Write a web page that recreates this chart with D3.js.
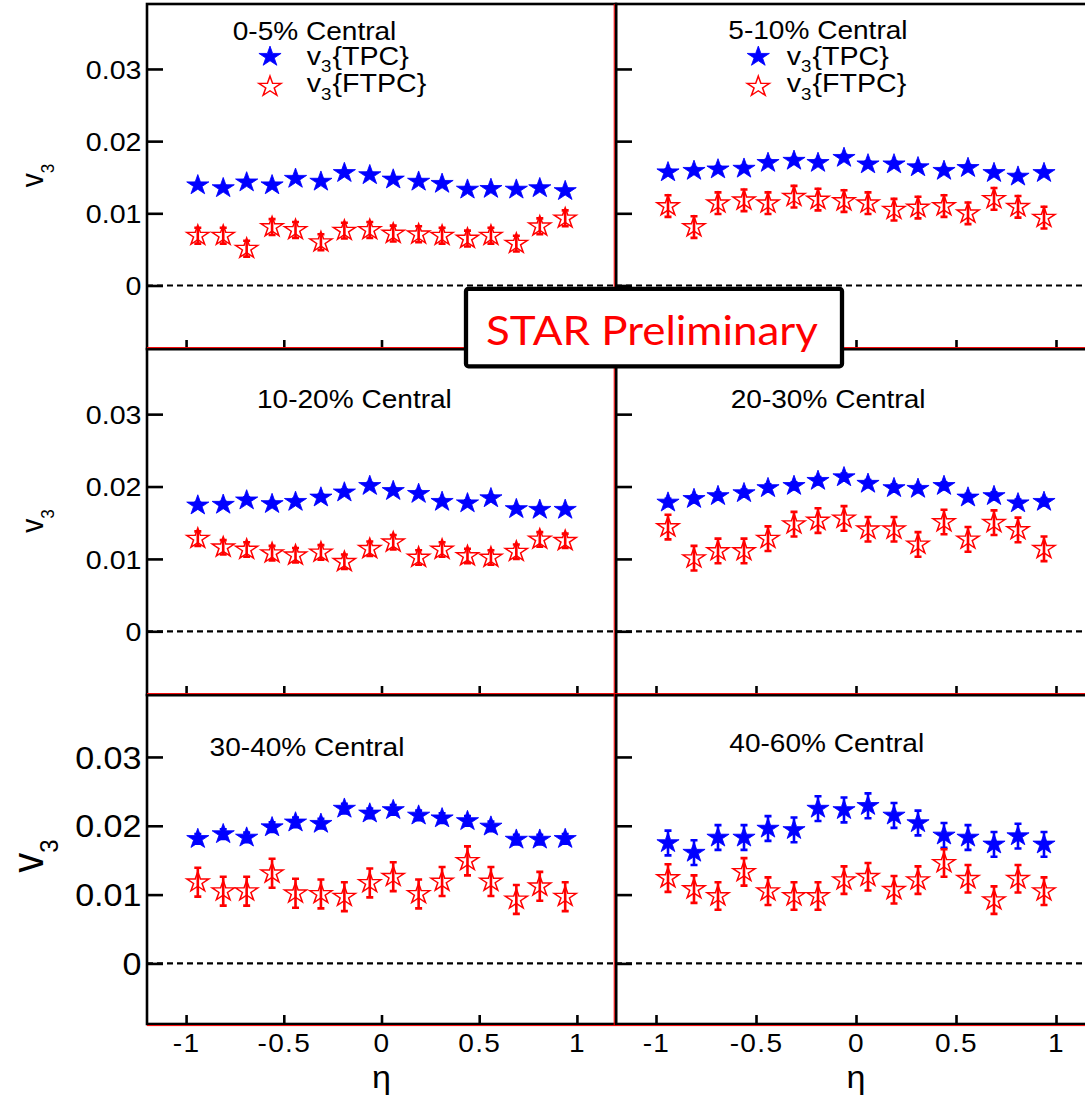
<!DOCTYPE html>
<html>
<head>
<meta charset="utf-8">
<script src="https://cdn.jsdelivr.net/npm/d3@7"></script>
<style>
  body { margin: 0; background: #fff; }
  svg { display: block; font-family: "Liberation Sans", Arial, sans-serif; }
</style>
</head>
<body>
<div id="chart"></div>
<script>
// ---------------- data ----------------
const eta = [-0.94, -0.81, -0.69, -0.56, -0.44, -0.31, -0.19, -0.06,
              0.06,  0.19,  0.31,  0.44,  0.56,  0.69,  0.81,  0.94];

const titles = ["0-5% Central", "5-10% Central", "10-20% Central",
                "20-30% Central", "30-40% Central", "40-60% Central"];

const tpc0 = [0.0139, 0.0135, 0.0143, 0.0139, 0.0148, 0.0144, 0.0156, 0.0153, 0.0147, 0.0144, 0.0141, 0.0133, 0.0134, 0.0133, 0.0135, 0.0131];
const ftpc0 = [0.0069, 0.0069, 0.0051, 0.0081, 0.0077, 0.0060, 0.0076, 0.0077, 0.0072, 0.0071, 0.0069, 0.0065, 0.0069, 0.0058, 0.0082, 0.0093];
const tpc1 = [0.0157, 0.0159, 0.0161, 0.0162, 0.0170, 0.0173, 0.0170, 0.0177, 0.0168, 0.0168, 0.0164, 0.0159, 0.0163, 0.0156, 0.0151, 0.0156];
const ftpc1 = [0.0110, 0.0081, 0.0114, 0.0118, 0.0114, 0.0123, 0.0119, 0.0117, 0.0114, 0.0105, 0.0108, 0.0110, 0.0100, 0.0120, 0.0109, 0.0094];
const tpc2 = [0.0174, 0.0175, 0.0181, 0.0176, 0.0179, 0.0185, 0.0192, 0.0201, 0.0194, 0.0190, 0.0179, 0.0177, 0.0184, 0.0169, 0.0168, 0.0168];
const ftpc2 = [0.0128, 0.0116, 0.0113, 0.0108, 0.0105, 0.0109, 0.0096, 0.0114, 0.0123, 0.0102, 0.0113, 0.0104, 0.0102, 0.0110, 0.0127, 0.0125];
const tpc3 = [0.0178, 0.0183, 0.0187, 0.0191, 0.0198, 0.0201, 0.0208, 0.0213, 0.0204, 0.0198, 0.0197, 0.0201, 0.0185, 0.0187, 0.0177, 0.0179];
const ftpc3 = [0.0144, 0.0101, 0.0111, 0.0111, 0.0128, 0.0148, 0.0153, 0.0156, 0.0141, 0.0141, 0.0120, 0.0151, 0.0127, 0.0150, 0.0140, 0.0114];
const tpc4 = [0.0181, 0.0188, 0.0183, 0.0198, 0.0205, 0.0203, 0.0225, 0.0218, 0.0223, 0.0215, 0.0211, 0.0207, 0.0199, 0.0180, 0.0180, 0.0181];
const ftpc4 = [0.0118, 0.0105, 0.0105, 0.0131, 0.0102, 0.0101, 0.0097, 0.0117, 0.0126, 0.0101, 0.0119, 0.0149, 0.0119, 0.0093, 0.0112, 0.0097];
const tpc5 = [0.0175, 0.0161, 0.0183, 0.0183, 0.0196, 0.0194, 0.0225, 0.0223, 0.0229, 0.0215, 0.0204, 0.0186, 0.0183, 0.0173, 0.0185, 0.0173];
const ftpc5 = [0.0124, 0.0108, 0.0098, 0.0133, 0.0105, 0.0098, 0.0098, 0.0121, 0.0126, 0.0107, 0.0121, 0.0146, 0.0123, 0.0092, 0.0123, 0.0105];

// one error size per panel
const tpcErr = [0.0003, 0.0004, 0.0004, 0.0005, 0.0007, 0.0018];
const ftpcErr = [0.0011, 0.0015, 0.0010, 0.0017, 0.0021, 0.0020];

const yTicks = [0, 0.01, 0.02, 0.03];
const xTicks = [-1, -0.5, 0, 0.5, 1];

const tpcAll = [tpc0, tpc1, tpc2, tpc3, tpc4, tpc5];
const ftpcAll = [ftpc0, ftpc1, ftpc2, ftpc3, ftpc4, ftpc5];

// ---------------- layout ----------------
const W = 1085, H = 1097;
const SX = 1.1; // the original figure is stretched horizontally
const colX = [[147, 616], [616, 1096]];
const rowY = [[4, 349], [349, 695], [695, 1024]];
const titlePos = [[232.7, 40], [728.3, 39.3], [257, 408], [730.7, 408.3], [209.6, 756], [729.3, 751.7]];
const yLabelPos = [[42.7, 175.5], [42.7, 521], [43.3, 856]];
const blue = "#0000ff", red = "#ff0000";

const svg = d3.select("#chart").append("svg").attr("width", W).attr("height", H);

const xScales = colX.map(r => d3.scaleLinear().domain([-1.2, 1.2]).range(r));
const yScales = rowY.map(r => d3.scaleLinear().domain([-0.0088, 0.039]).range([r[1], r[0]]));

const R = 10.6;
const starPath = d3.symbol().type(d3.symbolStar).size(R * R / 0.8908130915292852)();

const fmt = d => (d === 0 ? "0" : String(d));

function stretch(x, y) {
  return `translate(${x},${y}) scale(${SX},1)`;
}

function errPath(cx, y1, y2) {
  return `M${cx},${y1}V${y2}M${cx - 3.5},${y2}H${cx + 3.5}M${cx - 3.5},${y1}H${cx + 3.5}`;
}

titles.forEach((title, i) => {
  const row = Math.floor(i / 2), col = i % 2;
  const x = xScales[col], y = yScales[row];
  const g = svg.append("g");
  const big = row === 2;

  // zero line
  g.append("line")
    .attr("x1", x.range()[0]).attr("x2", x.range()[1])
    .attr("y1", y(0)).attr("y2", y(0))
    .attr("stroke", "#000").attr("stroke-width", 2.2)
    .attr("stroke-dasharray", "6,4");

  // y axis (ticks inward)
  const ya = g.append("g")
    .attr("transform", `translate(${x.range()[0]},0)`)
    .call(d3.axisLeft(y).tickValues(yTicks).tickSizeInner(-16).tickSizeOuter(0)
      .tickPadding(5).tickFormat(col === 0 ? fmt : ""));
  ya.select(".domain").remove();
  ya.selectAll("line").attr("stroke-width", 2.6);
  ya.selectAll("text")
    .attr("font-size", big ? 31 : 26)
    .attr("font-family", "Liberation Sans, Arial, sans-serif")
    .attr("dy", "0.36em")
    .attr("transform", `scale(${SX},1)`)
    .attr("fill", "#000");

  // x axis (ticks inward)
  const xa = g.append("g")
    .attr("transform", `translate(0,${y.range()[0]})`)
    .call(d3.axisBottom(x).tickValues(xTicks).tickSizeInner(-9).tickSizeOuter(0)
      .tickPadding(9.5).tickFormat(row === 2 ? fmt : ""));
  xa.select(".domain").remove();
  xa.selectAll("line").attr("stroke-width", 2.6);
  xa.selectAll("text")
    .attr("font-size", 25.5)
    .attr("letter-spacing", 1.2)
    .attr("font-family", "Liberation Sans, Arial, sans-serif")
    .attr("transform", `scale(${SX},1)`)
    .attr("fill", "#000");

  // frame
  g.append("rect")
    .attr("x", x.range()[0]).attr("y", y.range()[1])
    .attr("width", x.range()[1] - x.range()[0])
    .attr("height", y.range()[0] - y.range()[1])
    .attr("fill", "none").attr("stroke", "#000").attr("stroke-width", 2.6);

  // TPC: filled blue stars
  const tpc = tpcAll[i], ftpc = ftpcAll[i];
  g.selectAll(".errT").data(tpc).enter().append("path")
    .attr("d", (d, k) => errPath(x(eta[k]), y(d - tpcErr[i]), y(d + tpcErr[i])))
    .attr("stroke", blue).attr("stroke-width", 2.6).attr("fill", "none");
  g.selectAll(".tpc").data(tpc).enter().append("path")
    .attr("d", starPath)
    .attr("transform", (d, k) => stretch(x(eta[k]), y(d)))
    .attr("fill", blue).attr("stroke", blue).attr("stroke-width", 0.8)
    .attr("stroke-linejoin", "round");

  // FTPC: open red stars with error bars on top
  g.selectAll(".ftpc").data(ftpc).enter().append("path")
    .attr("d", starPath)
    .attr("transform", (d, k) => stretch(x(eta[k]), y(d)))
    .attr("fill", "#fff").attr("stroke", red).attr("stroke-width", 1.4);
  g.selectAll(".errF").data(ftpc).enter().append("path")
    .attr("d", (d, k) => errPath(x(eta[k]), y(d - ftpcErr[i]), y(d + ftpcErr[i])))
    .attr("stroke", red).attr("stroke-width", 2.6).attr("fill", "none");

  // title
  g.append("text")
    .attr("transform", stretch(titlePos[i][0], titlePos[i][1]))
    .attr("font-size", 25.5).attr("fill", "#000")
    .text(title);

  // y title on the left column
  if (col === 0) {
    const t = svg.append("text")
      .attr("transform", `${stretch(yLabelPos[row][0], yLabelPos[row][1])} rotate(-90)`)
      .attr("text-anchor", "middle")
      .attr("font-size", big ? 40 : 28).attr("fill", "#000");
    t.append("tspan").text("v");
    t.append("tspan").attr("dy", big ? 13 : 10).attr("font-size", big ? 24 : 17).text("3");
  }

  // x title on the bottom row
  if (row === 2) {
    svg.append("text")
      .attr("transform", stretch(x(0), 1088))
      .attr("text-anchor", "middle")
      .attr("font-size", 31).attr("fill", "#000")
      .text("η");
  }
});

// legends in the top row
const legendPos = [[270, 56.7, 306.7], [758.3, 56.7, 786.7]];
legendPos.forEach(([sx, sy, tx]) => {
  svg.append("path").attr("d", starPath)
    .attr("transform", stretch(sx, sy)).attr("fill", blue)
    .attr("stroke", blue).attr("stroke-width", 0.8).attr("stroke-linejoin", "round");
  svg.append("path").attr("d", starPath)
    .attr("transform", stretch(sx, sy + 30))
    .attr("fill", "#fff").attr("stroke", red).attr("stroke-width", 1.4);
  [["{TPC}", 64.5], ["{FTPC}", 92]].forEach(([lab, by]) => {
    const t = svg.append("text")
      .attr("transform", stretch(tx, by))
      .attr("font-size", 26).attr("fill", "#000");
    t.append("tspan").text("v");
    t.append("tspan").attr("dy", 7.7).attr("font-size", 17).text("3");
    t.append("tspan").attr("dy", -7.7).attr("dx", 1).text(lab);
  });
});

// thin red boundary lines
const reds = svg.append("g").attr("stroke", red).attr("stroke-width", 1);
reds.append("line").attr("x1", 614.2).attr("x2", 614.2).attr("y1", 4).attr("y2", 1025);
[347.6, 693.6, 1025.6].forEach(yy => {
  reds.append("line").attr("x1", 147).attr("x2", W).attr("y1", yy).attr("y2", yy);
});

// STAR Preliminary box
svg.append("rect")
  .attr("x", 466).attr("y", 288.8).attr("width", 376).attr("height", 77.5)
  .attr("rx", 2.5)
  .attr("fill", "#fff").attr("stroke", "#000").attr("stroke-width", 4.3);
svg.append("text")
  .attr("x", 652).attr("y", 345)
  .attr("text-anchor", "middle")
  .attr("font-family", "Lato, 'Open Sans', sans-serif")
  .attr("font-size", 41)
  .attr("textLength", 332).attr("lengthAdjust", "spacingAndGlyphs")
  .attr("fill", red)
  .text("STAR Preliminary");
</script>
</body>
</html>
